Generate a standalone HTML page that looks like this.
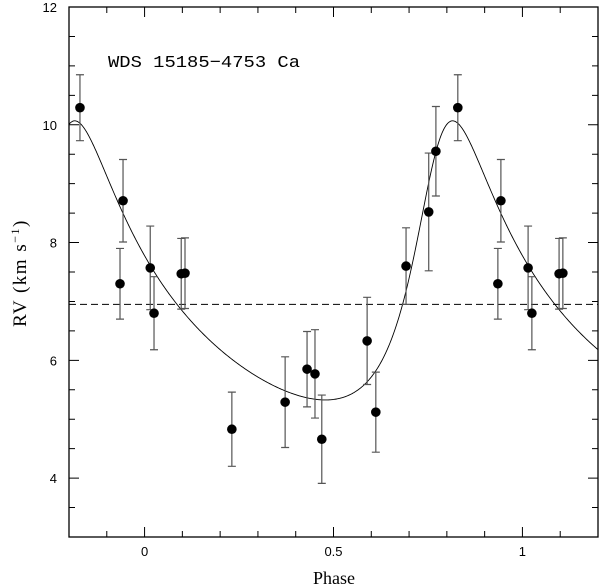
<!DOCTYPE html>
<html><head><meta charset="utf-8"><style>
body{margin:0;background:#fff}
svg{display:block}
.tl{font-family:"Liberation Sans",sans-serif;font-size:13px;fill:#000}
.sf{font-family:"Liberation Serif",serif;fill:#000}
.mf{font-family:"Liberation Mono",monospace;fill:#000}
</style></head><body>
<svg id="chart" width="600" height="588" viewBox="0 0 600 588" xmlns="http://www.w3.org/2000/svg">
<g id="marks"></g>
<text class="mf" x="108" y="67" font-size="17" textLength="192" lengthAdjust="spacingAndGlyphs">WDS 15185−4753 Ca</text>
<text class="sf" x="334" y="584" font-size="18" text-anchor="middle">Phase</text>
<text class="sf" transform="translate(26,273) rotate(-90)" font-size="19" text-anchor="middle" letter-spacing="1.5">RV (km s<tspan font-size="12" dy="-7">−1</tspan><tspan dy="7">)</tspan></text>
</svg>
<script>
const phases=[0.829,0.943,0.935,0.015,0.025,0.097,0.107,0.231,0.372,0.430,0.451,0.469,0.589,0.612,0.692,0.752,0.771];
const rvs=[10.29,8.71,7.30,7.57,6.80,7.47,7.48,4.83,5.29,5.85,5.77,4.66,6.33,5.12,7.60,8.52,9.55];
const errs=[0.56,0.70,0.60,0.71,0.62,0.60,0.60,0.63,0.77,0.64,0.75,0.75,0.74,0.68,0.65,1.00,0.76];
const xTicks=[0,0.5,1];
const xTickLabels=["0","0.5","1"];
const yTicks=[4,6,8,10,12];
const yTickLabels=["4","6","8","10","12"];
const gamma=6.95, K=2.37, ecc=0.40, omegaDeg=322, T0=0.772;

const X0=69,X1=598,Y0=7,Y1=537,xmin=-0.2,xmax=1.2,ymin=3,ymax=12;
const sx=v=>X0+(v-xmin)/(xmax-xmin)*(X1-X0);
const sy=v=>Y1-(v-ymin)/(ymax-ymin)*(Y1-Y0);
const NS="http://www.w3.org/2000/svg";
const g=document.getElementById('marks');
function mk(t,a){const e=document.createElementNS(NS,t);for(const k in a)e.setAttribute(k,a[k]);g.appendChild(e);return e;}

let fr=mk('rect',{x:X0,y:Y0,width:X1-X0,height:Y1-Y0,fill:'none',stroke:'#000','stroke-width':1.3});


for(let i=-2;i<=12;i++){const v=i/10,x=sx(v),L=(i%5===0)?10:6;
 let t=mk('path',{d:`M${x},${Y1}v${-L}M${x},${Y0}v${L}`,stroke:'#000','stroke-width':1});
 
 }
for(let i=6;i<=24;i++){const v=i/2,y=sy(v),L=(i%4===0)?10:6;
 let t=mk('path',{d:`M${X0},${y}h${L}M${X1},${y}h${-L}`,stroke:'#000','stroke-width':1});
 
 }
xTicks.forEach((v,i)=>{let t=mk('text',{x:sx(v),y:556,class:'tl','text-anchor':'middle'});t.textContent=xTickLabels[i];
 
 });
yTicks.forEach((v,i)=>{let t=mk('text',{x:57,y:sy(v)+5,class:'tl','text-anchor':'end'});t.textContent=yTickLabels[i];
 
 });
let dl=mk('line',{x1:X0,x2:X1,y1:sy(gamma),y2:sy(gamma),stroke:'#000','stroke-width':1,'stroke-dasharray':'7,4'});


const om=omegaDeg*Math.PI/180;
function rvAt(p){let M=2*Math.PI*(p-T0);let E=M;for(let k=0;k<30;k++)E=E-(E-ecc*Math.sin(E)-M)/(1-ecc*Math.cos(E));
 const nu=2*Math.atan2(Math.sqrt(1+ecc)*Math.sin(E/2),Math.sqrt(1-ecc)*Math.cos(E/2));
 return gamma+K*(Math.cos(nu+om)+ecc*Math.cos(om));}
let d='';for(let i=0;i<=700;i++){const p=xmin+(xmax-xmin)*i/700;d+=(i?'L':'M')+sx(p).toFixed(2)+','+sy(rvAt(p)).toFixed(2);}
let cv=mk('path',{d:d,fill:'none',stroke:'#000','stroke-width':0.9});


phases.forEach((p,i)=>{[p-1,p,p+1].forEach(q=>{if(q<xmin||q>xmax)return;
 const x=sx(q),y=sy(rvs[i]),ya=sy(rvs[i]+errs[i]),yb=sy(rvs[i]-errs[i]);
 let e=mk('path',{d:`M${x},${ya}V${yb}M${x-4},${ya}h8M${x-4},${yb}h8`,stroke:'#555','stroke-width':1.2,fill:'none'});
 
 
 let c=mk('circle',{cx:x,cy:y,r:4.8,fill:'#000'});
 
 });});
</script>
</body></html>
